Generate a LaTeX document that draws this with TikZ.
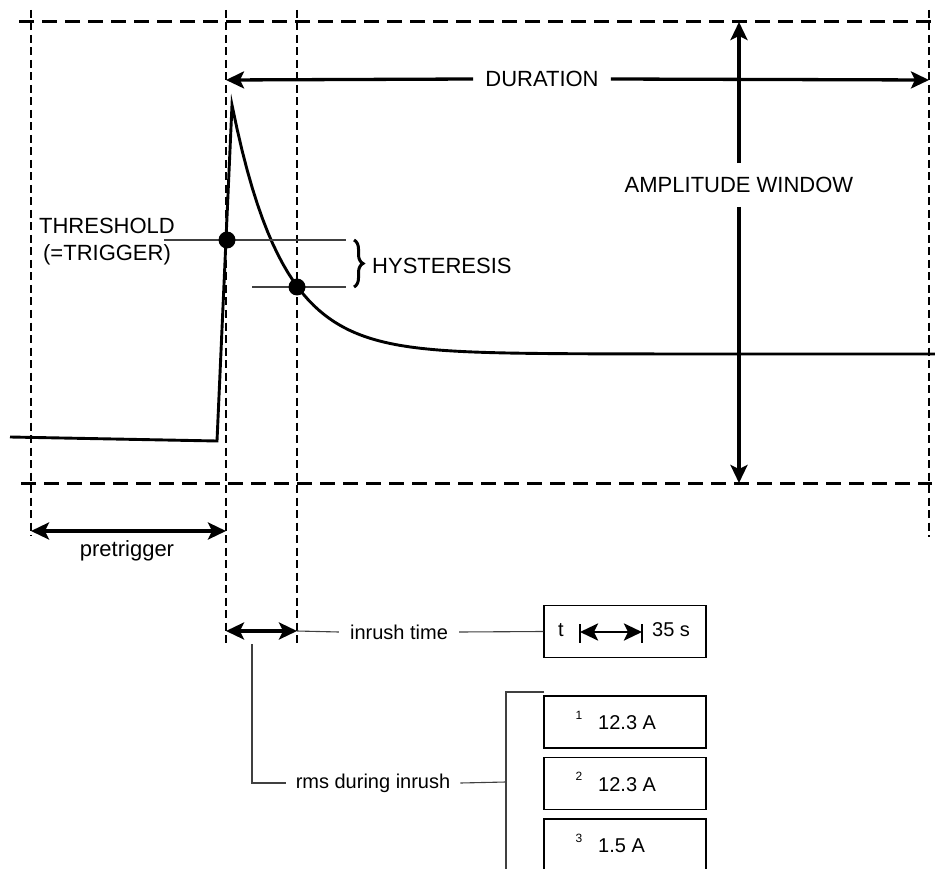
\documentclass[tikz,border=0pt]{standalone}
\usepackage{fontspec}
\setmainfont{Liberation Sans}
\usetikzlibrary{arrows.meta,decorations.pathreplacing,positioning}

\begin{document}
\begin{tikzpicture}[
    x=1pt, y=-1pt,
    hgrid/.style={line width=3pt,dash pattern=on 15pt off 8pt},
    vgrid/.style={line width=2pt,dash pattern=on 8pt off 4.5pt},
    arr/.style={line width=3.3pt,-{Stealth[length=18pt,width=17pt,inset=4pt]}},
    dim/.style={line width=3.3pt,{Stealth[length=18pt,width=17pt,inset=4pt]}-{Stealth[length=18pt,width=17pt,inset=4pt]}},
    leader/.style={line width=1.1pt,black!75},
    wave/.style={line width=2.9pt,line join=miter},
    dot/.style={circle,fill=black,inner sep=0pt,minimum size=17pt},
    lbl/.style={font=\fontsize{22}{27}\selectfont,inner sep=0pt},
    smalllbl/.style={font=\fontsize{20}{24}\selectfont,inner sep=0pt},
    tinylbl/.style={font=\fontsize{12}{14}\selectfont,inner sep=0pt},
    valbox/.style={draw,line width=1.5pt,minimum width=162pt,minimum height=52pt,inner sep=0pt}
]

\clip (0,0) rectangle (935,869);
\fill[white] (0,0) rectangle (935,869);

% window
\draw[hgrid] (19,22) -- (932,22);
\draw[hgrid] (21,483) -- (932,483);
\draw[vgrid] (31,10) -- (31,536);
\draw[vgrid] (226,10) -- (226,644);
\draw[vgrid] (297,10) -- (297,644);
\draw[vgrid] (929,10) -- (929,537);

% signal
\draw[wave] (10,437) -- (217,441) -- plot[domain=232:940,samples=140] (\x,{354-249*exp(-(\x-232)/50)});

\draw[leader] (164,240) -- (346,240);
\draw[leader] (252,287) -- (346,287);

\node[dot] (trig) at (227,240) {};
\node[dot] (hyst) at (297,287) {};

\node[lbl,align=center] (threshold) at (107,242) {THRESHOLD\\(=TRIGGER)};

\draw[line width=3pt,decorate,decoration={brace,amplitude=9pt}] (354,240) -- (354,287);
\node[lbl,anchor=west] (hysteresis) at (372,266) {HYSTERESIS};

% duration
\coordinate (durL) at (226,80);
\coordinate (durR) at (929,80);
\node[lbl,inner xsep=12pt] (duration) at (542,79) {DURATION};
\draw[arr] (duration.west) -- (durL);
\draw[arr] (duration.east) -- (durR);

% amplitude window
\coordinate (ampT) at (739,22);
\coordinate (ampB) at (739,483);
\node[lbl,inner ysep=14pt] (amplitude) at (739,185) {AMPLITUDE WINDOW};
\draw[arr] (amplitude.north) -- (ampT);
\draw[arr] (amplitude.south) -- (ampB);

% pretrigger
\coordinate (preL) at (31,531);
\coordinate (preR) at (226,531);
\coordinate (preM) at (127,531);
\draw[dim] (preL) -- (preR);
\node[lbl,below=9pt of preM] (pretrigger) {pretrigger};

% inrush time
\coordinate (inL) at (226,631);
\coordinate (inR) at (297,631);
\draw[dim] (inL) -- (inR);
\node[smalllbl,inner xsep=11pt] (inrush) at (399,632) {inrush time};
\node[valbox] (tbox) at (625,631.5) {};
\draw[leader] (inR) -- (inrush.west);
\draw[leader] (inrush.east) -- (tbox.west);

\node[smalllbl] (tlbl) at (561,630) {t};
\draw[line width=1.4pt] (580,624) -- (580,643);
\draw[line width=1.4pt] (642,624) -- (642,643);
\draw[dim,line width=2.8pt] (580,632) -- (642,632);
\node[smalllbl,anchor=west] (tval) at (652,630) {35 s};

% rms during inrush
\coordinate (rmsTop) at (252,644);
\coordinate (rmsBus) at (506,782);
\node[smalllbl,inner xsep=10pt] (rms) at (373,783) {rms during inrush};
\draw[leader] (rmsTop) |- (rms.west);
\draw[leader] (rms.east) -- (rmsBus);
\draw[leader] (544,692) -| (506,880);

\foreach \n/\v in {1/12.3 A,2/12.3 A,3/1.5 A} {
  \pgfmathsetmacro{\yc}{722+61.5*(\n-1)}
  \node[valbox] (val\n) at (625,\yc) {};
  \node[tinylbl] (idx\n) at (579,{\yc-7}) {\n};
  \node[smalllbl,anchor=west] (num\n) at (598,{\yc+1}) {\v};
}

\end{tikzpicture}
\end{document}
